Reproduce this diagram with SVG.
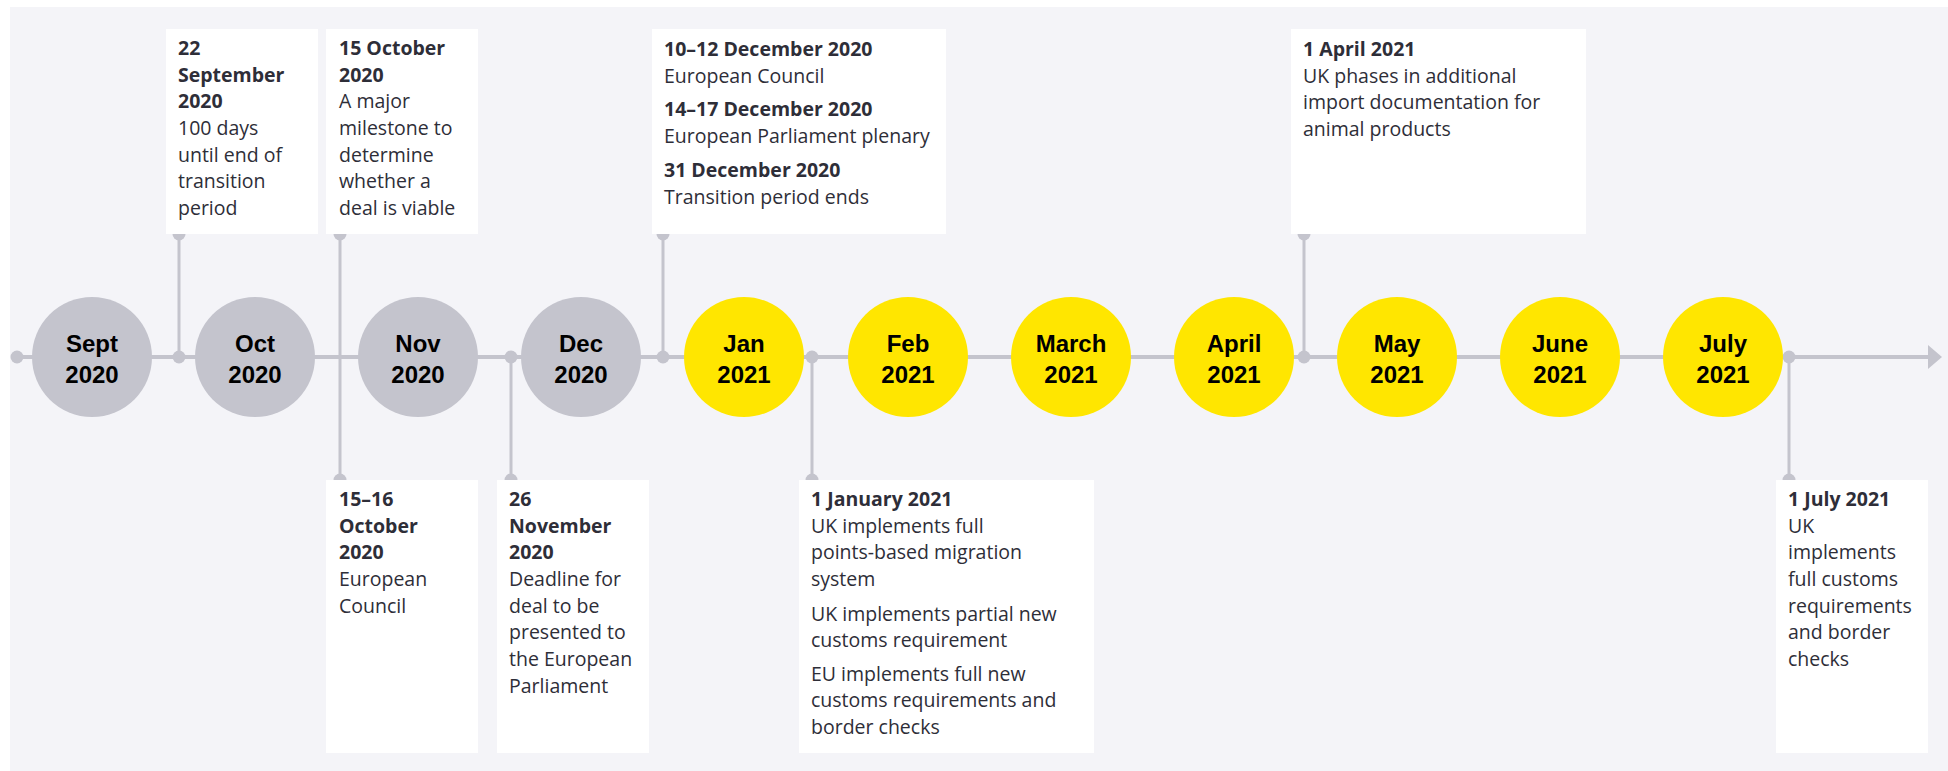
<svg xmlns="http://www.w3.org/2000/svg" width="1948" height="771" viewBox="0 0 1948 771">
<style>
.bg{fill:#f4f4f8}
.box{fill:#ffffff}
.line{stroke:#c4c4cd;stroke-width:4;fill:none}
.stem{stroke:#c4c4cd;stroke-width:3;fill:none}
.dot{fill:#c4c4cd}
.past{fill:#c4c4cd}
.future{fill:#ffe600}
.mon{font-family:"Liberation Sans",Arial,sans-serif;font-weight:bold;font-size:24px;fill:#000;text-anchor:middle}
.t{font-family:"Open Sans","Noto Sans",sans-serif;font-size:19.5px;fill:#2e2e38}
.b{font-weight:bold}
</style>
<rect class="bg" x="10" y="7" width="1938" height="764"/>

<g id="connectors">
  <line class="line" x1="17" y1="357" x2="1930" y2="357"/>
  <polygon class="dot" points="1928,345 1942,357 1928,369"/>
  <circle class="dot" cx="17" cy="357" r="6.5"/>
  <line class="stem" x1="179" y1="234" x2="179" y2="357"/>
  <circle class="dot" cx="179" cy="357" r="6.5"/>
  <circle class="dot" cx="179" cy="234" r="6.5"/>
  <line class="stem" x1="340" y1="234" x2="340" y2="480"/>
  <circle class="dot" cx="340" cy="234" r="6.5"/>
  <circle class="dot" cx="340" cy="480" r="6.5"/>
  <line class="stem" x1="511" y1="357" x2="511" y2="480"/>
  <circle class="dot" cx="511" cy="357" r="6.5"/>
  <circle class="dot" cx="511" cy="480" r="6.5"/>
  <line class="stem" x1="663" y1="234" x2="663" y2="357"/>
  <circle class="dot" cx="663" cy="357" r="6.5"/>
  <circle class="dot" cx="663" cy="234" r="6.5"/>
  <line class="stem" x1="812" y1="357" x2="812" y2="480"/>
  <circle class="dot" cx="812" cy="357" r="6.5"/>
  <circle class="dot" cx="812" cy="480" r="6.5"/>
  <line class="stem" x1="1304" y1="234" x2="1304" y2="357"/>
  <circle class="dot" cx="1304" cy="357" r="6.5"/>
  <circle class="dot" cx="1304" cy="234" r="6.5"/>
  <line class="stem" x1="1789" y1="357" x2="1789" y2="480"/>
  <circle class="dot" cx="1789" cy="357" r="6.5"/>
  <circle class="dot" cx="1789" cy="480" r="6.5"/>
</g>

<g id="m-sep"><circle class="past" cx="92" cy="357" r="60"/><text class="mon" x="92" y="352">Sept</text><text class="mon" x="92" y="383">2020</text></g>
<g id="m-oct"><circle class="past" cx="255" cy="357" r="60"/><text class="mon" x="255" y="352">Oct</text><text class="mon" x="255" y="383">2020</text></g>
<g id="m-nov"><circle class="past" cx="418" cy="357" r="60"/><text class="mon" x="418" y="352">Nov</text><text class="mon" x="418" y="383">2020</text></g>
<g id="m-dec"><circle class="past" cx="581" cy="357" r="60"/><text class="mon" x="581" y="352">Dec</text><text class="mon" x="581" y="383">2020</text></g>
<g id="m-jan"><circle class="future" cx="744" cy="357" r="60"/><text class="mon" x="744" y="352">Jan</text><text class="mon" x="744" y="383">2021</text></g>
<g id="m-feb"><circle class="future" cx="908" cy="357" r="60"/><text class="mon" x="908" y="352">Feb</text><text class="mon" x="908" y="383">2021</text></g>
<g id="m-mar"><circle class="future" cx="1071" cy="357" r="60"/><text class="mon" x="1071" y="352">March</text><text class="mon" x="1071" y="383">2021</text></g>
<g id="m-apr"><circle class="future" cx="1234" cy="357" r="60"/><text class="mon" x="1234" y="352">April</text><text class="mon" x="1234" y="383">2021</text></g>
<g id="m-may"><circle class="future" cx="1397" cy="357" r="60"/><text class="mon" x="1397" y="352">May</text><text class="mon" x="1397" y="383">2021</text></g>
<g id="m-jun"><circle class="future" cx="1560" cy="357" r="60"/><text class="mon" x="1560" y="352">June</text><text class="mon" x="1560" y="383">2021</text></g>
<g id="m-jul"><circle class="future" cx="1723" cy="357" r="60"/><text class="mon" x="1723" y="352">July</text><text class="mon" x="1723" y="383">2021</text></g>

<g id="e-22sep">
  <rect class="box" x="166" y="29" width="152" height="205"/>
  <text class="t b" x="178" y="55">22</text>
  <text class="t b" x="178" y="82">September</text>
  <text class="t b" x="178" y="108">2020</text>
  <text class="t" x="178" y="135">100 days</text>
  <text class="t" x="178" y="162">until end of</text>
  <text class="t" x="178" y="188">transition</text>
  <text class="t" x="178" y="215">period</text>
</g>
<g id="e-15oct">
  <rect class="box" x="326" y="29" width="152" height="205"/>
  <text class="t b" x="339" y="55">15 October</text>
  <text class="t b" x="339" y="82">2020</text>
  <text class="t" x="339" y="108">A major</text>
  <text class="t" x="339" y="135">milestone to</text>
  <text class="t" x="339" y="162">determine</text>
  <text class="t" x="339" y="188">whether a</text>
  <text class="t" x="339" y="215">deal is viable</text>
</g>
<g id="e-dec">
  <rect class="box" x="652" y="29" width="294" height="205"/>
  <text class="t b" x="664" y="56">10–12 December 2020</text>
  <text class="t" x="664" y="83">European Council</text>
  <text class="t b" x="664" y="116">14–17 December 2020</text>
  <text class="t" x="664" y="143">European Parliament plenary</text>
  <text class="t b" x="664" y="177">31 December 2020</text>
  <text class="t" x="664" y="204">Transition period ends</text>
</g>
<g id="e-1apr">
  <rect class="box" x="1291" y="29" width="295" height="205"/>
  <text class="t b" x="1303" y="56">1 April 2021</text>
  <text class="t" x="1303" y="83">UK phases in additional</text>
  <text class="t" x="1303" y="109">import documentation for</text>
  <text class="t" x="1303" y="136">animal products</text>
</g>
<g id="e-1516oct">
  <rect class="box" x="326" y="480" width="152" height="273"/>
  <text class="t b" x="339" y="506">15–16</text>
  <text class="t b" x="339" y="533">October</text>
  <text class="t b" x="339" y="559">2020</text>
  <text class="t" x="339" y="586">European</text>
  <text class="t" x="339" y="613">Council</text>
</g>
<g id="e-26nov">
  <rect class="box" x="497" y="480" width="152" height="273"/>
  <text class="t b" x="509" y="506">26</text>
  <text class="t b" x="509" y="533">November</text>
  <text class="t b" x="509" y="559">2020</text>
  <text class="t" x="509" y="586">Deadline for</text>
  <text class="t" x="509" y="613">deal to be</text>
  <text class="t" x="509" y="639">presented to</text>
  <text class="t" x="509" y="666">the European</text>
  <text class="t" x="509" y="693">Parliament</text>
</g>
<g id="e-1jan">
  <rect class="box" x="799" y="480" width="295" height="273"/>
  <text class="t b" x="811" y="506">1 January 2021</text>
  <text class="t" x="811" y="533">UK implements full</text>
  <text class="t" x="811" y="559">points-based migration</text>
  <text class="t" x="811" y="586">system</text>
  <text class="t" x="811" y="621">UK implements partial new</text>
  <text class="t" x="811" y="647">customs requirement</text>
  <text class="t" x="811" y="681">EU implements full new</text>
  <text class="t" x="811" y="707">customs requirements and</text>
  <text class="t" x="811" y="734">border checks</text>
</g>
<g id="e-1jul">
  <rect class="box" x="1776" y="480" width="152" height="273"/>
  <text class="t b" x="1788" y="506">1 July 2021</text>
  <text class="t" x="1788" y="533">UK</text>
  <text class="t" x="1788" y="559">implements</text>
  <text class="t" x="1788" y="586">full customs</text>
  <text class="t" x="1788" y="613">requirements</text>
  <text class="t" x="1788" y="639">and border</text>
  <text class="t" x="1788" y="666">checks</text>
</g>
</svg>
